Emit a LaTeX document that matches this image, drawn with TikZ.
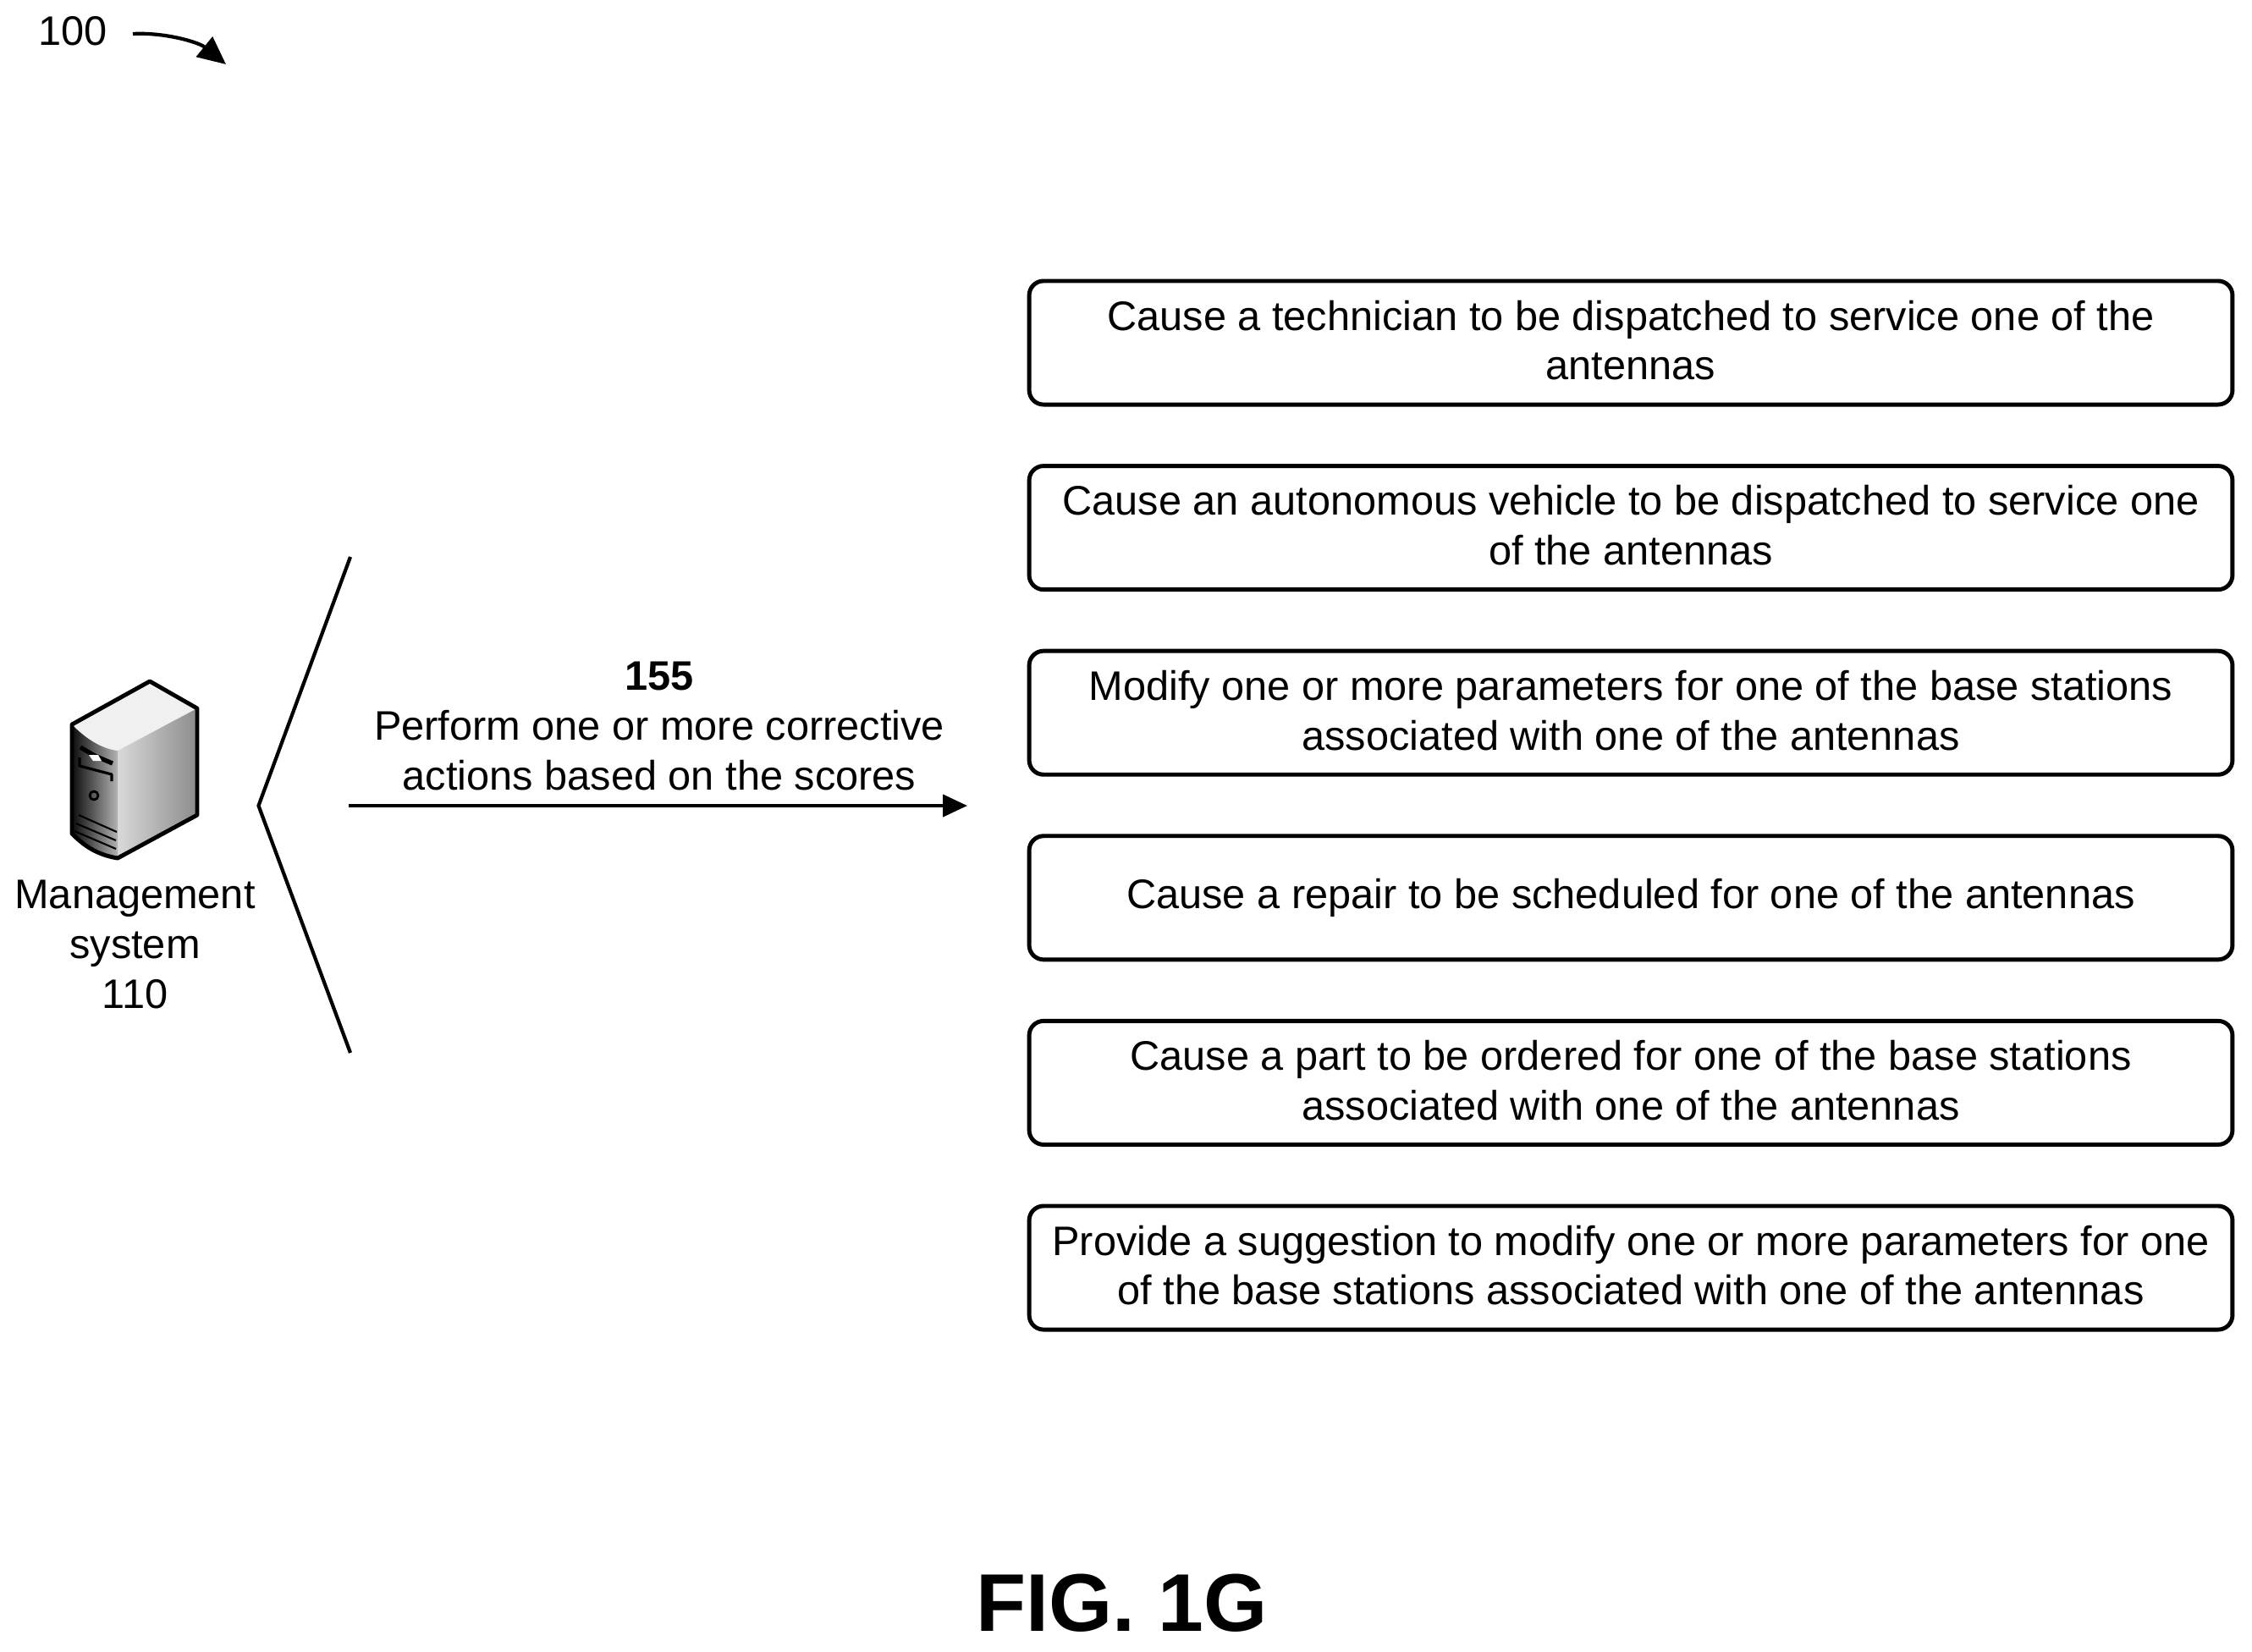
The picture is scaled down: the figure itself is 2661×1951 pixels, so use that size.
\documentclass[tikz,border=0pt]{standalone}
\usepackage{fontspec}
\setmainfont{Liberation Sans}
\usetikzlibrary{arrows.meta}
\newcommand{\liftline}{\rule[-0.06cm]{0pt}{0.06cm}}
\tikzset{
  px/.style={x=0.01cm,y=-0.01cm},
  actionbox/.style={draw=black,line width=1.4pt,rounded corners=0.17cm,minimum width=14.21cm,minimum height=1.46cm,align=center,inner sep=0pt,font=\fontsize{13.85}{16.67}\selectfont},
  label/.style={align=center,inner sep=0pt,font=\fontsize{13.85}{16.67}\selectfont},
  conn/.style={line width=1.2pt,-{Triangle[length=0.29cm,width=0.26cm]}},
  refarrow/.style={line width=1.2pt,-{Triangle[length=0.33cm,width=0.3cm]}},
  brace/.style={line width=1.2pt,line join=miter},
  srv/.style={line join=round}
}
\begin{document}
\begin{tikzpicture}[px]
\useasboundingbox (0,0) rectangle (2661,1951);
% reference numeral
\node[label] (n100) at (86,37) {100};
\coordinate (r1) at (157,40);
\coordinate (r2) at (267,76);
\draw[refarrow] (r1) .. controls (195,38) and (235,50) .. (r2);
% server icon
\fill[black!6] (177,805) -- (233,837) -- (139,887) .. controls (120,885) and (100,872) .. (85,856) -- cycle;
\shade[left color=black!15,right color=black!45]
  (233,837) -- (233,963) -- (139,1014) -- (139,887) -- cycle;
\shade[left color=black!95,right color=black!30]
  (85,856) .. controls (100,872) and (120,885) .. (139,887) -- (139,1014) .. controls (115,1010) and (100,1000) .. (85,985) -- cycle;
\draw[srv,line width=1.4pt] (177,805) -- (233,837) -- (233,963) -- (139,1014) .. controls (115,1010) and (100,1000) .. (85,985) -- (85,856) -- cycle;
\draw[srv,line width=0.9pt] (94,895) -- (94,905) -- (132,915) -- (132,923);
\draw[srv,line width=1.5pt] (95,883) -- (112,893) -- (133,902);
\fill[white] (105,892) -- (116,892) -- (120,899) -- (110,899) -- cycle;
\draw[srv,line width=0.8pt] (111,940) circle (5);
\draw[srv,line width=0.6pt] (93,963) -- (138,983);
\draw[srv,line width=0.6pt] (90,973) -- (137,993);
\draw[srv,line width=0.6pt] (88,982) -- (137,1003);
% label under server
\node[label] (mgmt) at (159.5,1116) {Management\\system\\110};
% bracket
\coordinate (b1) at (414,658);
\coordinate (b2) at (305.5,952);
\coordinate (b3) at (414,1244);
\draw[brace] (b1) -- (b2) -- (b3);
% arrow and label
\coordinate (a1) at (412,952);
\coordinate (a2) at (1143,952);
\draw[conn] (a1) -- (a2);
\node[label] (stepl) at (779,858) {\textbf{155}\\Perform one or more corrective\\actions based on the scores};
% boxes
\node[actionbox] (box1) at (1927,405) {Cause a technician to be dispatched to service one of the\\antennas\liftline};
\node[actionbox] (box2) at (1927,623.6) {Cause an autonomous vehicle to be dispatched to service one\\of the antennas\liftline};
\node[actionbox] (box3) at (1927,842.2) {Modify one or more parameters for one of the base stations\\associated with one of the antennas\liftline};
\node[actionbox] (box4) at (1927,1060.8) {Cause a repair to be scheduled for one of the antennas};
\node[actionbox] (box5) at (1927,1279.4) {Cause a part to be ordered for one of the base stations\\associated with one of the antennas\liftline};
\node[actionbox] (box6) at (1927,1498) {Provide a suggestion to modify one or more parameters for one\\of the base stations associated with one of the antennas\liftline};
% figure label
\node[inner sep=0pt,font=\fontsize{27.5}{33}\selectfont\bfseries] (fig) at (1325.5,1894) {FIG. 1G};
\end{tikzpicture}
\end{document}
